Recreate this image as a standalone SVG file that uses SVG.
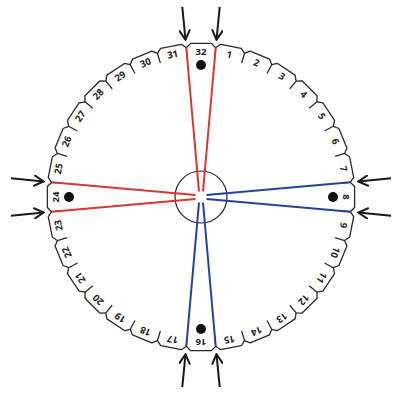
<svg xmlns="http://www.w3.org/2000/svg" xmlns:xlink="http://www.w3.org/1999/xlink" width="400" height="400" viewBox="0 0 400 400">
<style>
.tab{fill:none;stroke:#2a2a2a;stroke-width:1.3;stroke-linejoin:round}
.lbl{font-family:"Open Sans","Liberation Sans",sans-serif;font-weight:bold;font-size:9.5px;fill:#222;text-anchor:middle}
.dot{fill:#111}
.red{stroke:#d8382f;stroke-width:2;fill:none}
.blue{stroke:#24439a;stroke-width:2;fill:none}
.arr{stroke:#1a1a1a;stroke-width:2;fill:none;marker-end:url(#ah)}
</style>
<defs>
<path id="tabshape" class="tab" d="M-14.70,-149.28 L-10.5,-153.6 L10.5,-153.6 L14.70,-149.28 L13.72,-139.33"/>
<marker id="ah" viewBox="0 0 12 12" refX="11" refY="6" markerWidth="12" markerHeight="12" markerUnits="userSpaceOnUse" orient="auto">
<path d="M1,0.5 L11,6 L1,11.5" fill="none" stroke="#1a1a1a" stroke-width="2"/>
</marker>
</defs>
<rect width="400" height="400" fill="#fff"/>
<g id="tabs">
<g id="tab-1" transform="translate(201 197) rotate(11.25)"><use xlink:href="#tabshape" href="#tabshape"/><text class="lbl" x="0" y="-142">1</text></g>
<g id="tab-2" transform="translate(201 197) rotate(22.5)"><use xlink:href="#tabshape" href="#tabshape"/><text class="lbl" x="0" y="-142">2</text></g>
<g id="tab-3" transform="translate(201 197) rotate(33.75)"><use xlink:href="#tabshape" href="#tabshape"/><text class="lbl" x="0" y="-142">3</text></g>
<g id="tab-4" transform="translate(201 197) rotate(45)"><use xlink:href="#tabshape" href="#tabshape"/><text class="lbl" x="0" y="-142">4</text></g>
<g id="tab-5" transform="translate(201 197) rotate(56.25)"><use xlink:href="#tabshape" href="#tabshape"/><text class="lbl" x="0" y="-142">5</text></g>
<g id="tab-6" transform="translate(201 197) rotate(67.5)"><use xlink:href="#tabshape" href="#tabshape"/><text class="lbl" x="0" y="-142">6</text></g>
<g id="tab-7" transform="translate(201 197) rotate(78.75)"><use xlink:href="#tabshape" href="#tabshape"/><text class="lbl" x="0" y="-142">7</text></g>
<g id="tab-8" transform="translate(201 197) rotate(90)"><use xlink:href="#tabshape" href="#tabshape"/><text class="lbl" x="0" y="-142">8</text><circle class="dot" cx="0" cy="-132" r="5"/></g>
<g id="tab-9" transform="translate(201 197) rotate(101.25)"><use xlink:href="#tabshape" href="#tabshape"/><text class="lbl" x="0" y="-142">9</text></g>
<g id="tab-10" transform="translate(201 197) rotate(112.5)"><use xlink:href="#tabshape" href="#tabshape"/><text class="lbl" x="0" y="-142">10</text></g>
<g id="tab-11" transform="translate(201 197) rotate(123.75)"><use xlink:href="#tabshape" href="#tabshape"/><text class="lbl" x="0" y="-142">11</text></g>
<g id="tab-12" transform="translate(201 197) rotate(135)"><use xlink:href="#tabshape" href="#tabshape"/><text class="lbl" x="0" y="-142">12</text></g>
<g id="tab-13" transform="translate(201 197) rotate(146.25)"><use xlink:href="#tabshape" href="#tabshape"/><text class="lbl" x="0" y="-142">13</text></g>
<g id="tab-14" transform="translate(201 197) rotate(157.5)"><use xlink:href="#tabshape" href="#tabshape"/><text class="lbl" x="0" y="-142">14</text></g>
<g id="tab-15" transform="translate(201 197) rotate(168.75)"><use xlink:href="#tabshape" href="#tabshape"/><text class="lbl" x="0" y="-142">15</text></g>
<g id="tab-16" transform="translate(201 197) rotate(180)"><use xlink:href="#tabshape" href="#tabshape"/><text class="lbl" x="0" y="-142">16</text><circle class="dot" cx="0" cy="-132" r="5"/></g>
<g id="tab-17" transform="translate(201 197) rotate(191.25)"><use xlink:href="#tabshape" href="#tabshape"/><text class="lbl" x="0" y="-142">17</text></g>
<g id="tab-18" transform="translate(201 197) rotate(202.5)"><use xlink:href="#tabshape" href="#tabshape"/><text class="lbl" x="0" y="-142">18</text></g>
<g id="tab-19" transform="translate(201 197) rotate(213.75)"><use xlink:href="#tabshape" href="#tabshape"/><text class="lbl" x="0" y="-142">19</text></g>
<g id="tab-20" transform="translate(201 197) rotate(225)"><use xlink:href="#tabshape" href="#tabshape"/><text class="lbl" x="0" y="-142">20</text></g>
<g id="tab-21" transform="translate(201 197) rotate(236.25)"><use xlink:href="#tabshape" href="#tabshape"/><text class="lbl" x="0" y="-142">21</text></g>
<g id="tab-22" transform="translate(201 197) rotate(247.5)"><use xlink:href="#tabshape" href="#tabshape"/><text class="lbl" x="0" y="-142">22</text></g>
<g id="tab-23" transform="translate(201 197) rotate(258.75)"><use xlink:href="#tabshape" href="#tabshape"/><text class="lbl" x="0" y="-142">23</text></g>
<g id="tab-24" transform="translate(201 197) rotate(270)"><use xlink:href="#tabshape" href="#tabshape"/><text class="lbl" x="0" y="-142">24</text><circle class="dot" cx="0" cy="-132" r="5"/></g>
<g id="tab-25" transform="translate(201 197) rotate(281.25)"><use xlink:href="#tabshape" href="#tabshape"/><text class="lbl" x="0" y="-142">25</text></g>
<g id="tab-26" transform="translate(201 197) rotate(292.5)"><use xlink:href="#tabshape" href="#tabshape"/><text class="lbl" x="0" y="-142">26</text></g>
<g id="tab-27" transform="translate(201 197) rotate(303.75)"><use xlink:href="#tabshape" href="#tabshape"/><text class="lbl" x="0" y="-142">27</text></g>
<g id="tab-28" transform="translate(201 197) rotate(315)"><use xlink:href="#tabshape" href="#tabshape"/><text class="lbl" x="0" y="-142">28</text></g>
<g id="tab-29" transform="translate(201 197) rotate(326.25)"><use xlink:href="#tabshape" href="#tabshape"/><text class="lbl" x="0" y="-142">29</text></g>
<g id="tab-30" transform="translate(201 197) rotate(337.5)"><use xlink:href="#tabshape" href="#tabshape"/><text class="lbl" x="0" y="-142">30</text></g>
<g id="tab-31" transform="translate(201 197) rotate(348.75)"><use xlink:href="#tabshape" href="#tabshape"/><text class="lbl" x="0" y="-142">31</text></g>
<g id="tab-32" transform="translate(201 197) rotate(0)"><use xlink:href="#tabshape" href="#tabshape"/><text class="lbl" x="0" y="-142">32</text><circle class="dot" cx="0" cy="-132" r="5"/></g>
</g>
<g id="center-hole">
<circle cx="201" cy="197" r="26" fill="none" stroke="#222" stroke-width="1.2"/>
</g>
<g id="connectors">
<g transform="translate(201 197) rotate(0)"><path class="red" d="M-14.70,-149.28 L-2,-5.5 M14.70,-149.28 L2,-5.5"/></g>
<g transform="translate(201 197) rotate(270)"><path class="red" d="M-14.70,-149.28 L-2,-5.5 M14.70,-149.28 L2,-5.5"/></g>
<g transform="translate(201 197) rotate(90)"><path class="blue" d="M-14.70,-149.28 L-2,-5.5 M14.70,-149.28 L2,-5.5"/></g>
<g transform="translate(201 197) rotate(180)"><path class="blue" d="M-14.70,-149.28 L-2,-5.5 M14.70,-149.28 L2,-5.5"/></g>
</g>
<g id="arrows">
<g transform="translate(201 197) rotate(0)"><path class="arr" d="M-18.72,-190.08 L-15.49,-157.24"/><path class="arr" d="M18.72,-190.08 L15.49,-157.24"/></g>
<g transform="translate(201 197) rotate(90)"><path class="arr" d="M-18.72,-190.08 L-15.49,-157.24"/><path class="arr" d="M18.72,-190.08 L15.49,-157.24"/></g>
<g transform="translate(201 197) rotate(180)"><path class="arr" d="M-18.72,-190.08 L-15.49,-157.24"/><path class="arr" d="M18.72,-190.08 L15.49,-157.24"/></g>
<g transform="translate(201 197) rotate(270)"><path class="arr" d="M-18.72,-190.08 L-15.49,-157.24"/><path class="arr" d="M18.72,-190.08 L15.49,-157.24"/></g>
</g>
</svg>
